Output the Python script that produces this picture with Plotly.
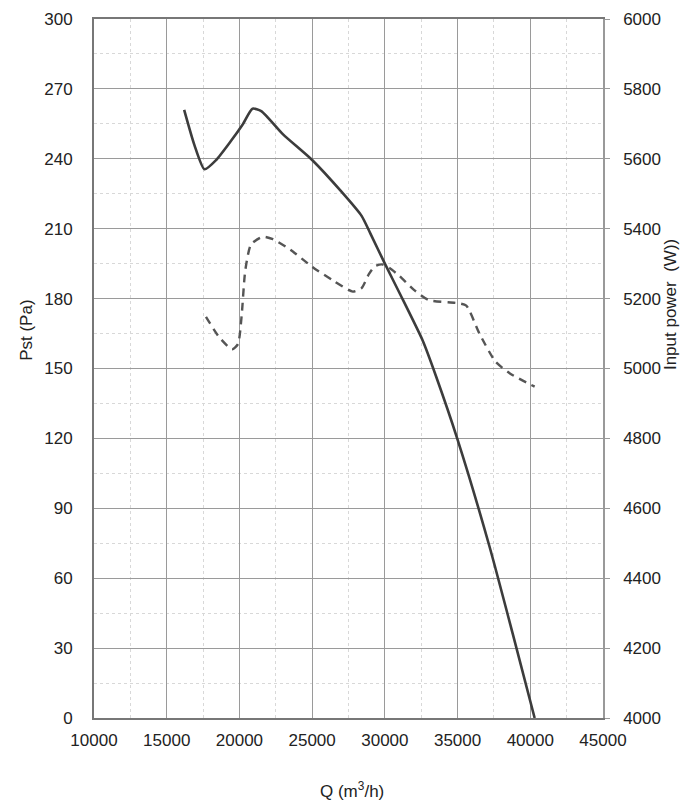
import plotly.graph_objects as go

# Static pressure curve (left axis)
q_pst = [16200, 16900, 17600, 18400, 19400, 20200, 20900, 21500, 23000, 25000,
         27000, 28400, 29000, 30000, 31000, 32600, 33500, 35000, 37200, 38800, 40300]
pst = [261, 246, 235.5, 239.5, 247.5, 254.5, 261.5, 260.5, 250.5, 239.5,
       226, 215.5, 208, 195, 182.5, 162, 147, 119.5, 73.5, 36, 0]

# Input power curve (right axis)
q_pow = [17700, 18600, 19500, 19900, 20150, 20400, 20800, 21600, 22300, 23500,
         25000, 26500, 27800, 28400, 28900, 29300, 29800, 30300, 31000, 32000,
         33000, 35000, 35600, 36500, 37600, 38600, 40300]
power = [5148, 5090, 5055, 5070, 5150, 5280, 5355, 5377, 5370, 5340,
         5291, 5250, 5220, 5230, 5270, 5292, 5298, 5288, 5265, 5225,
         5196, 5187, 5180, 5100, 5020, 4986, 4948]

font = dict(family='Liberation Sans, Arial, sans-serif', size=17, color='#222')

fig = go.Figure()

fig.add_trace(go.Scatter(
    x=q_pst, y=pst,
    mode='lines',
    line=dict(color='#3c3c3c', width=2.6, shape='spline', smoothing=0.6),
    yaxis='y1',
    showlegend=False
))

fig.add_trace(go.Scatter(
    x=q_pow, y=power,
    mode='lines',
    line=dict(color='#555555', width=2.4, dash='8px,6px', shape='spline', smoothing=0.6),
    yaxis='y2',
    showlegend=False
))

# page body adds an 8px offset, margins account for it
fig.update_layout(
    width=700, height=808,
    margin=dict(l=86, r=105, t=11, b=98),
    plot_bgcolor='white',
    paper_bgcolor='white',
    font=font,
    xaxis=dict(
        range=[10000, 45000], dtick=5000, tick0=10000, tickformat='d',
        showgrid=True, gridcolor='#9a9a9a', gridwidth=1,
        minor=dict(dtick=2500, showgrid=True, gridcolor='#d8d8d8', griddash='dot'),
        showline=True, linecolor='#777777', linewidth=2, mirror=True,
        ticks='', ticklabelstandoff=6, tickfont=font, zeroline=False,
        automargin=False
    ),
    yaxis=dict(
        range=[0, 300], dtick=30, tick0=0,
        showgrid=True, gridcolor='#9a9a9a', gridwidth=1,
        minor=dict(dtick=15, showgrid=True, gridcolor='#d8d8d8', griddash='dot'),
        showline=True, linecolor='#777777', linewidth=2,
        ticks='', ticklabelstandoff=16, tickfont=font, zeroline=False,
        automargin=False
    ),
    yaxis2=dict(
        range=[4000, 6000], dtick=200, tick0=4000,
        overlaying='y', side='right',
        showgrid=False, zeroline=False,
        showline=True, linecolor='#999999', linewidth=1.5,
        ticks='outside', ticklen=5, tickcolor='#999999',
        ticklabelstandoff=10, tickfont=font, automargin=False
    ),
    annotations=[
        dict(text='Pst (Pa)', xref='paper', yref='paper', x=-0.134, y=0.555,
             xanchor='center', yanchor='middle',
             textangle=-90, showarrow=False, font=font),
        dict(text='Input power  (W))', xref='paper', yref='paper', x=1.134, y=0.591,
             xanchor='center', yanchor='middle',
             textangle=-90, showarrow=False, font=font),
        dict(text='Q (m<sup>3</sup>/h)', xref='paper', yref='paper', x=0.507, y=-0.103,
             xanchor='center', yanchor='middle',
             showarrow=False, font=font),
    ]
)

fig.write_html("out.html")
